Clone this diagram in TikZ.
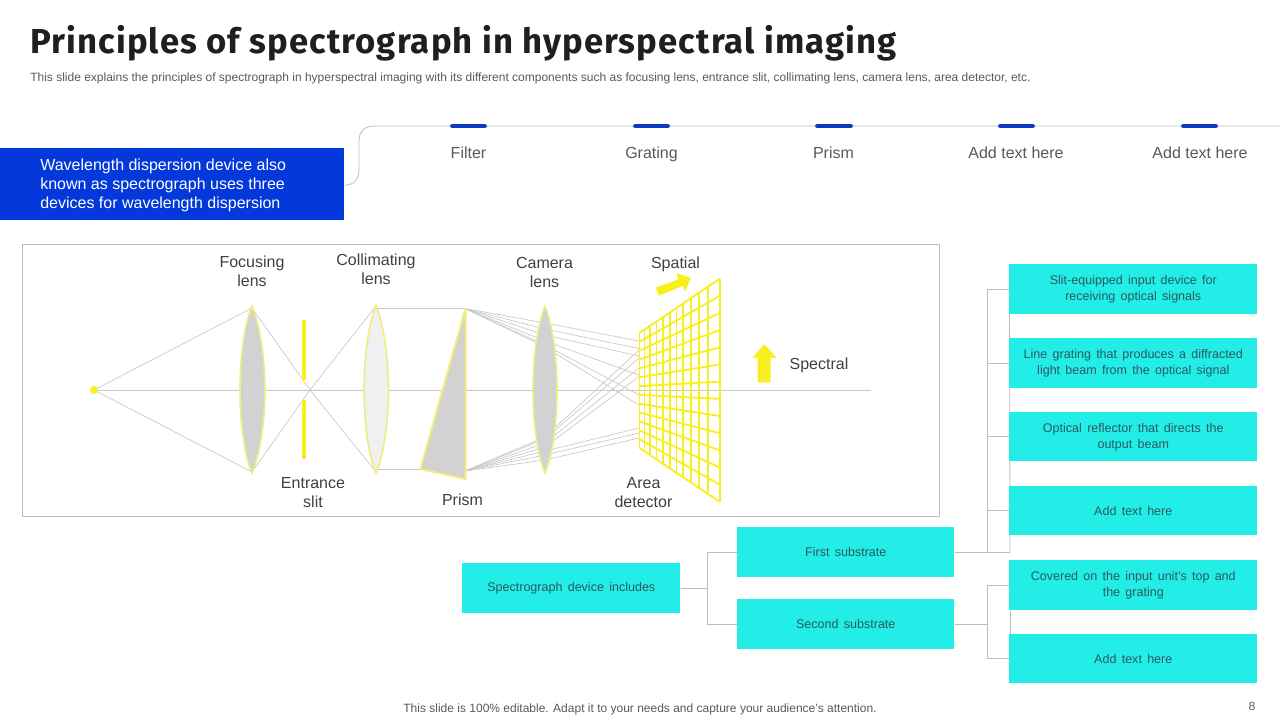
\documentclass[tikz,border=0pt]{standalone}
\usepackage{fontspec}
\setmainfont{Liberation Sans}
\newfontfamily\titlefont[LetterSpace=3.2]{Fira Sans}
\usetikzlibrary{calc}
\pgfdeclarelayer{bg}
\pgfsetlayers{bg,main}
\definecolor{cyanbox}{HTML}{22EDE6}
\definecolor{bluebox}{HTML}{0338DB}
\definecolor{markblue}{HTML}{0B3CC0}
\definecolor{linegray}{HTML}{BDBDBD}
\definecolor{rayg}{HTML}{C8C8C8}
\definecolor{lensg}{HTML}{D2D2D2}
\definecolor{yel}{HTML}{F7F01E}
\definecolor{lensy}{HTML}{EFEC80}
\definecolor{txt}{HTML}{404040}
\definecolor{txtg}{HTML}{595959}
\definecolor{boxtxt}{HTML}{2A5A60}
\newcommand{\boxfont}{\fontsize{9.4}{12}\selectfont\spaceskip=0.42em plus 0.1em\relax}
\tikzset{
  x=0.75pt,y=-0.75pt,
  cbox/.style={fill=cyanbox,draw=none,minimum width=218*0.75pt,minimum height=50*0.75pt,inner sep=0pt,align=center,text=boxtxt,font=\boxfont,anchor=north west},
  rbox/.style={cbox,minimum width=248*0.75pt},
  conn/.style={draw=linegray,line width=0.6pt},
  ray/.style={draw=rayg,line width=0.5pt},
  lab/.style={align=center,text=txt,font=\fontsize{12}{14.2}\selectfont,inner sep=0pt},
  tl/.style={text=txtg,font=\fontsize{12}{14}\selectfont,inner sep=0pt,anchor=base},
  tick/.style={draw=markblue,line width=3.6pt,line cap=round},
  lens/.style={draw=lensy,line width=1.2pt},
  gridl/.style={draw=yel,line width=1.35pt},
}
\begin{document}
\begin{tikzpicture}
\useasboundingbox (0,0) rectangle (1280,720);
\node[anchor=west,inner sep=0pt,text=black!88] (title) at (30,43.5) {\titlefont\fontsize{26}{30}\selectfont\bfseries Principles of spectrograph in hyperspectral imaging};
\node[anchor=west,inner sep=0pt,text=txtg] (sub) at (30,78.5) {\fontsize{9}{10}\selectfont This slide explains the principles of spectrograph in hyperspectral imaging with its different components such as focusing lens, entrance slit, collimating lens, camera lens, area detector, etc.};
% timeline
\node[fill=bluebox,minimum width=344*0.75pt,minimum height=72*0.75pt,inner sep=0pt,anchor=north west] (wave) at (0,148) {};
\node[anchor=west,inner sep=0pt,text=white,align=left,font=\fontsize{12}{14.2}\selectfont] (wavet) at (40,185) {Wavelength dispersion device also\\known as spectrograph uses three\\devices for wavelength dispersion};
\coordinate (tlend) at (1280,126);
\draw[conn] (wave.east) ++(0,1) .. controls (353,185) and (359,180) .. (359,170) -- (359,141) .. controls (359,131) and (365,126) .. (374,126) -- (tlend);
\foreach \n/\a/\b/\t/\tx in {f/450/487/Filter/468.5,g/633/670/Grating/651.5,p/815/853/Prism/833.5,a/998/1035/Add text here/1016,b/1181/1218/Add text here/1200}{
  \coordinate (\n1) at (\a+2.5,126); \coordinate (\n2) at (\b-2.5,126);
  \draw[tick] (\n1) -- (\n2);
  \node[tl] (lab\n) at (\tx,158.5) {\t};
}
% frame
\node[draw=linegray,line width=0.7pt,minimum width=917*0.75pt,minimum height=272*0.75pt,inner sep=0pt,anchor=north west] (frame) at (22,244) {};
% optics
\coordinate (src) at (94,390);
\coordinate (cross) at (310,390);
\coordinate (axisend) at (871,390);
\draw[ray] (src) -- (axisend);
\draw[ray] (src) -- (252,308);
\draw[ray] (src) -- (252,472);
\draw[ray] (252,308) -- (cross) -- (376,472);
\draw[ray] (252,472) -- (cross) -- (376,306);
\draw[ray] (376,308.5) -- (465,308.5);
\draw[ray] (376,469.5) -- (421,469.5);
% rays prism -> lens -> detector
\foreach \yb/\yc in {323/341,329/348.5,335/356,341/375,345/395,347/405}
  \draw[ray] (465,308.5) -- (545,\yb) -- (639,\yc);
\foreach \yb/\yc in {460/438,455/433,451/428,447/376.5,443/368,439/358,437/350}
  \draw[ray] (465,471) -- (545,\yb) -- (639,\yc);
\draw[lens,fill=lensg] (252,306) .. controls (260,325) and (265,360) .. (265,390) .. controls (265,420) and (260,455) .. (252,473) .. controls (244,455) and (240,420) .. (240,390) .. controls (240,360) and (244,325) .. (252,306) -- cycle;
\draw[lens,fill=black!6] (376,305.5) .. controls (384,325) and (388.5,360) .. (388.5,390) .. controls (388.5,420) and (384,455) .. (376,473) .. controls (368,455) and (364,420) .. (364,390) .. controls (364,360) and (368,325) .. (376,305.5) -- cycle;
\draw[lens,fill=lensg] (545,306.5) .. controls (553,325) and (557,360) .. (557,390) .. controls (557,420) and (553,455) .. (545,473) .. controls (537,455) and (533,420) .. (533,390) .. controls (533,360) and (537,325) .. (545,306.5) -- cycle;
\draw[draw=lensy,line width=1.5pt,fill=lensg,line join=round] (465.5,308.5) -- (465.5,479) -- (420.5,469) -- cycle;
\draw[ray] (466,390) -- (533,390);
\draw[draw=yel,line width=3pt] (304,320) -- (304,379.5);
\draw[draw=yel,line width=3pt] (304,400) -- (304,459);
\fill[yel] (src) circle (4);
% detector grid
\foreach \t in {0,0.0625,0.135,0.21,0.29,0.375,0.46,0.545,0.635,0.735,0.855,1}{
  \draw[gridl] (639.5+\t*80.5,333-\t*54.5) -- (639.5+\t*80.5,448+\t*54);
}
\foreach \s in {0,1,...,13}{
  \draw[gridl] (639.5,333+\s*115/13) -- (720,278.5+\s*223.5/13);
}
% arrows
\fill[yel] (659,295.7) -- (655.7,287.7) -- (678.3,279.3) -- (676.7,273.3) -- (690.7,277.7) -- (685.3,291.7) -- (682.7,286) -- cycle;
\fill[yel] (764.3,344.3) -- (752.3,357.7) -- (757.7,357.7) -- (757.7,382.3) -- (770.7,382.3) -- (770.7,357.7) -- (776.7,357.7) -- cycle;
% labels
\node[lab] (l1) at (252,271.2) {Focusing\\lens};
\node[lab] (l2) at (376,269.2) {Collimating\\lens};
\node[lab] (l3) at (544.5,272.2) {Camera\\lens};
\node[lab] (l4) at (675.5,264) {Spatial};
\node[lab] (l5) at (819,365.5) {Spectral};
\node[lab] (l6) at (313,493) {Entrance\\slit};
\node[lab] (l7) at (462.5,500) {Prism};
\node[lab] (l8) at (643.5,493) {Area\\detector};
% tree
\node[cbox] (root) at (462,563) {Spectrograph device includes};
\node[cbox,minimum width=217*0.75pt] (s1) at (737,527) {First substrate};
\node[cbox,minimum width=217*0.75pt] (s2) at (737,599) {Second substrate};
\node[rbox] (r1) at (1009,264) {Slit-equipped input device for\\receiving optical signals};
\node[rbox] (r2) at (1009,338) {Line grating that produces a diffracted\\light beam from the optical signal};
\node[rbox,minimum height=49*0.75pt] (r3) at (1009,412) {Optical reflector that directs the\\output beam};
\node[rbox,minimum height=49*0.75pt] (r4) at (1009,486) {Add text here};
\node[rbox] (r5) at (1009,560) {Covered on the input unit's top and\\the grating};
\node[rbox,minimum height=49*0.75pt] (r6) at (1009,634) {Add text here};
\begin{pgfonlayer}{bg}
\draw[conn] (root.east) -- ($(root.east)+(27,0)$) coordinate (j1);
\draw[conn] (j1) |- (s1.west);
\draw[conn] (j1) |- (s2.west);
\draw[conn] (s1.east) -- ($(s1.east)+(33,0)$) coordinate (j2);
\draw[conn] (j2) |- (r1.west);
\draw[conn] (j2) |- (r2.west);
\draw[conn] (j2) |- (r3.west);
\draw[conn] (j2) |- (r4.west);
\draw[conn] (j2) -- ($(j2)+(22.5,0)$) coordinate (j3);
\draw[conn] (j3) -- ($(r1.west)+(0.5,0)$);
\draw[conn] (s2.east) -- ($(s2.east)+(33,0)$) coordinate (j4);
\draw[conn] (j4) |- (r5.west);
\draw[conn] (j4) |- (r6.west);
\draw[conn] ($(r5.south west)+(1.5,0)$) -- ($(r6.north west)+(1.5,0)$);
\end{pgfonlayer}
% footer
\node[inner sep=0pt,text=txtg] (foot) at (640,709.5) {\fontsize{9}{11}\selectfont This slide is 100\% editable. Adapt it to your needs and capture your audience's attention.};
\node[inner sep=0pt,text=txtg] (pg) at (1252,706) {\fontsize{9}{11}\selectfont 8};
\end{tikzpicture}
\end{document}
